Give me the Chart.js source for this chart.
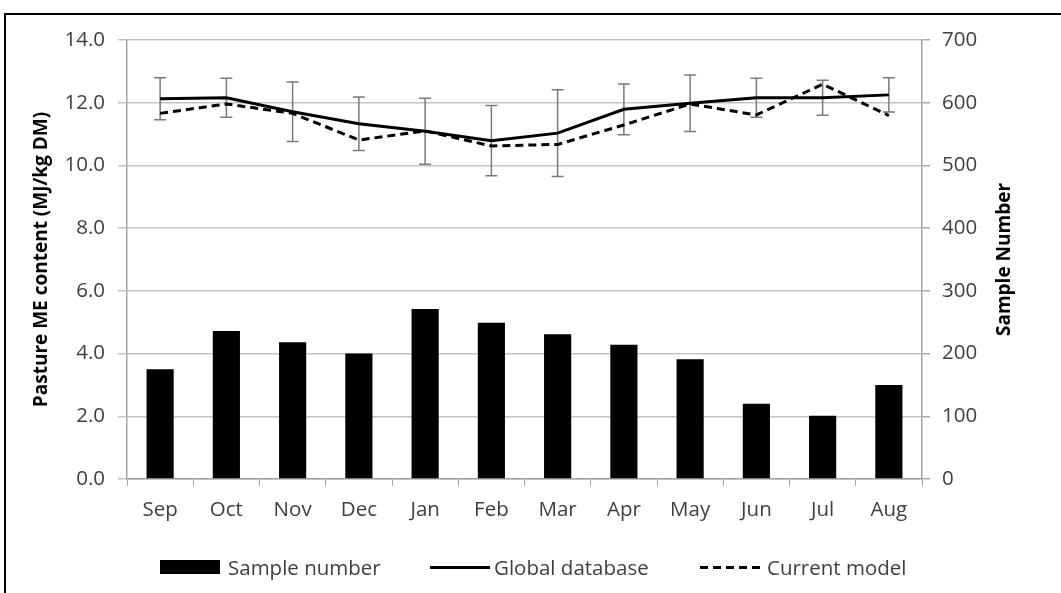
<!DOCTYPE html>
<html lang="en">
<head>
<meta charset="UTF-8">
<title>Pasture ME content by month</title>
<script src="https://cdn.jsdelivr.net/npm/chart.js"></script>
<style>
    html, body {
        margin: 0;
        padding: 0;
        background: #fff;
        width: 1061px;
        height: 593px;
        overflow: hidden;
        font-family: 'Open Sans', sans-serif;
    }
    .frame {
        position: absolute;
        left: 4px;
        top: 13px;
        width: 1070px;
        height: 600px;
        border-top: 2px solid #000;
        border-left: 2px solid #000;
    }
    .wrap {
        position: absolute;
        left: 0;
        top: 0;
        width: 1061px;
        height: 593px;
    }
    .legend .item {
        position: absolute;
        top: 553px;
        display: flex;
        align-items: center;
        font-size: 20.5px;
        color: #404040;
        white-space: nowrap;
    }
    .legend .box { width: 60px; height: 14px; background: #000; margin-right: 8px; }
    .legend .solid { width: 60px; border-top: 3px solid #000; margin-right: 4px; }
    .legend .dash { width: 62px; height: 3px; margin-right: 5px;
        background: repeating-linear-gradient(90deg, #000 0 8px, transparent 8px 13px); }
</style>
</head>
<body>
<div class="frame"></div>
<div class="wrap"><canvas id="chart" width="1061" height="593"></canvas></div>
<div class="legend">
    <div class="item" style="left:160px"><span class="box"></span>Sample number</div>
    <div class="item" style="left:430px"><span class="solid"></span>Global database</div>
    <div class="item" style="left:700px"><span class="dash"></span>Current model</div>
</div>

<script>
    const months = ['Sep', 'Oct', 'Nov', 'Dec', 'Jan', 'Feb', 'Mar', 'Apr', 'May', 'Jun', 'Jul', 'Aug'];
    const sampleNumber = [175, 236, 218, 200, 271, 249, 231, 214, 191, 120, 101, 150];
    const globalDatabase = [12.13, 12.16, 11.71, 11.33, 11.09, 10.79, 11.03, 11.79, 11.98, 12.16, 12.16, 12.25];
    const currentModel = [11.66, 11.96, 11.66, 10.81, 11.10, 10.62, 10.67, 11.29, 11.96, 11.61, 12.59, 11.59];
    const globalError = [0.67, 0.62, 0.95, 0.85, 1.05, 1.12, 1.38, 0.81, 0.90, 0.62, 0.56, 0.55];

    const leftTicks = [0, 2, 4, 6, 8, 10, 12, 14];
    const rightTicks = [0, 100, 200, 300, 400, 500, 600, 700];

    const gridColor = '#c4c4c4';
    const axisColor = '#a6a6a6';
    const tickFont = { family: 'Open Sans', size: 20.5 };
    const titleFont = { family: 'Open Sans', size: 19, weight: 'bold' };

    // error bars on the global database line, drawn under the lines
    const errorBars = {
        id: 'errorBars',
        beforeDatasetsDraw(chart) {
            const ctx = chart.ctx;
            const x = chart.scales.x;
            const y = chart.scales.y;
            ctx.save();
            ctx.strokeStyle = '#7a7a7a';
            ctx.lineWidth = 1.5;
            globalDatabase.forEach((v, i) => {
                const px = x.getPixelForValue(i);
                const top = y.getPixelForValue(v + globalError[i]);
                const bot = y.getPixelForValue(v - globalError[i]);
                ctx.beginPath();
                ctx.moveTo(px, top); ctx.lineTo(px, bot);
                ctx.moveTo(px - 6, top); ctx.lineTo(px + 6, top);
                ctx.moveTo(px - 6, bot); ctx.lineTo(px + 6, bot);
                ctx.stroke();
            });
            ctx.restore();
        }
    };

    // right axis title reads bottom-to-top like the left one
    const rightTitle = {
        id: 'rightTitle',
        afterDraw(chart) {
            const ctx = chart.ctx;
            const area = chart.chartArea;
            ctx.save();
            ctx.translate(1005, (area.top + area.bottom) / 2);
            ctx.rotate(-Math.PI / 2);
            ctx.font = 'bold 19px "Open Sans"';
            ctx.fillStyle = '#000';
            ctx.textAlign = 'center';
            ctx.textBaseline = 'middle';
            ctx.fillText('Sample Number', 0, 0);
            ctx.restore();
        }
    };

    new Chart(document.getElementById('chart').getContext('2d'), {
        type: 'bar',
        data: {
            labels: months,
            datasets: [
                {
                    type: 'line',
                    label: 'Global database',
                    data: globalDatabase,
                    yAxisID: 'y',
                    borderColor: '#000',
                    borderWidth: 3,
                    pointRadius: 0,
                    tension: 0,
                    order: 0
                },
                {
                    type: 'line',
                    label: 'Current model',
                    data: currentModel,
                    yAxisID: 'y',
                    borderColor: '#000',
                    borderWidth: 3,
                    borderDash: [8, 5],
                    pointRadius: 0,
                    tension: 0,
                    order: 1
                },
                {
                    label: 'Sample number',
                    data: sampleNumber,
                    yAxisID: 'y1',
                    backgroundColor: '#000',
                    barPercentage: 0.41,
                    categoryPercentage: 1,
                    order: 2
                }
            ]
        },
        options: {
            responsive: false,
            animation: false,
            layout: { padding: { top: 40, bottom: 0, left: 0, right: 0 } },
            plugins: {
                legend: { display: false },
                tooltip: { enabled: false }
            },
            scales: {
                x: {
                    offset: true,
                    grid: { display: true, drawOnChartArea: false, offset: true, color: axisColor, tickLength: 7 },
                    border: { color: axisColor, width: 1.5 },
                    ticks: { color: '#404040', font: tickFont, padding: 12, maxRotation: 0 },
                    afterFit(scale) { scale.height = 114; }
                },
                y: {
                    position: 'left',
                    min: 0,
                    max: 14,
                    afterBuildTicks(scale) { scale.ticks = leftTicks.map(v => ({ value: v })); },
                    grid: { color: gridColor, lineWidth: 1.5, tickLength: 9 },
                    border: { color: axisColor, width: 1.5 },
                    ticks: { color: '#404040', font: tickFont, padding: 13, callback: v => v.toFixed(1) },
                    title: { display: true, text: 'Pasture ME content (MJ/kg DM)', color: '#000', font: titleFont, padding: { top: 30, bottom: 0 } },
                    afterFit(scale) { scale.width = 127; }
                },
                y1: {
                    position: 'right',
                    min: 0,
                    max: 700,
                    afterBuildTicks(scale) { scale.ticks = rightTicks.map(v => ({ value: v })); },
                    grid: { drawOnChartArea: false, color: axisColor, lineWidth: 1.5, tickLength: 8 },
                    border: { color: axisColor, width: 1.5 },
                    ticks: { color: '#404040', font: tickFont, padding: 12 },
                    afterFit(scale) { scale.width = 139; }
                }
            }
        },
        plugins: [errorBars, rightTitle]
    });
</script>
</body>
</html>
